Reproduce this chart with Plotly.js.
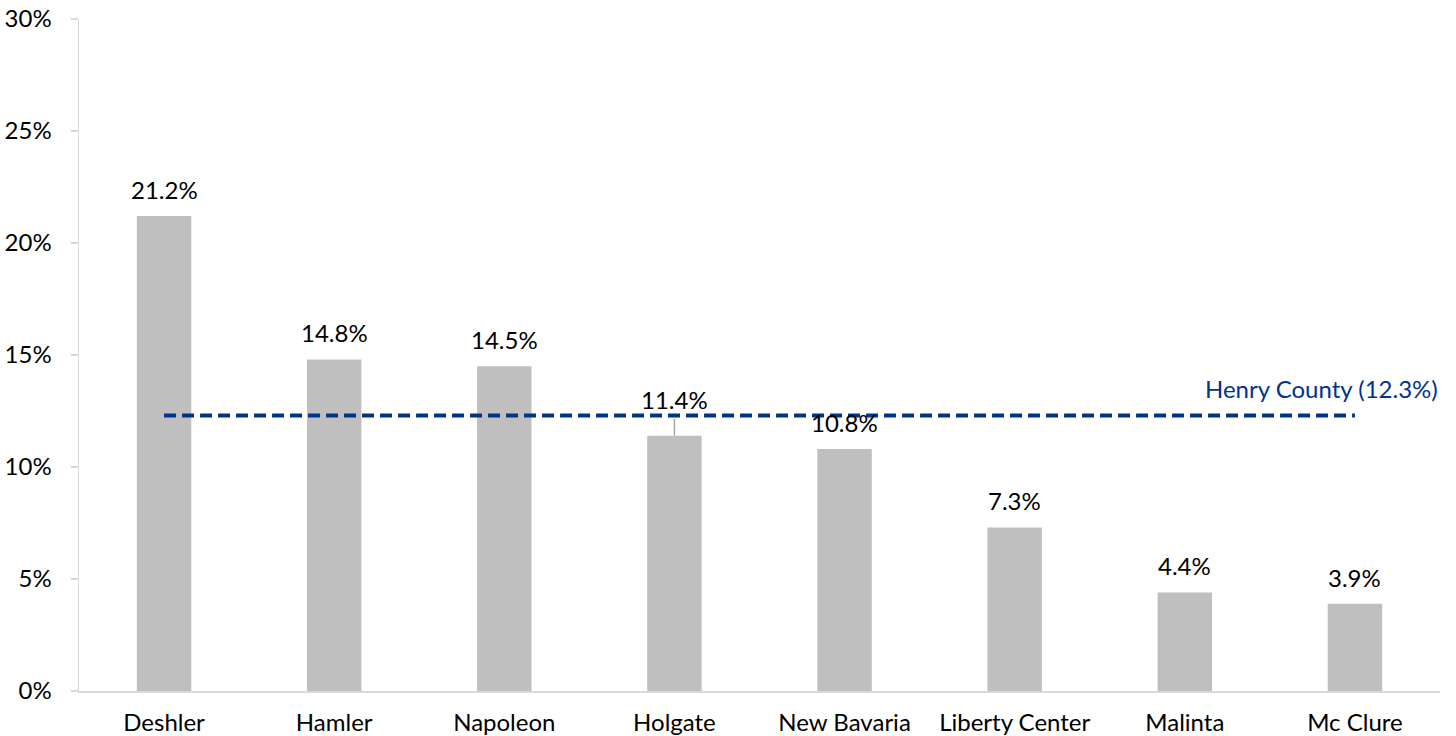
<!DOCTYPE html>
<html><head><meta charset="utf-8">
<script src="https://cdn.plot.ly/plotly-3.0.1.min.js"></script>
<style>html,body{margin:0;padding:0;background:#fff}#chart{width:1456px;height:736px}</style>
</head><body><div id="chart"></div>
<script>
const categories = ["Deshler","Hamler","Napoleon","Holgate","New Bavaria","Liberty Center","Malinta","Mc Clure"];
const values = [21.2,14.8,14.5,11.4,10.8,7.3,4.4,3.9];
const countyValue = 12.3;
const countyLabel = "Henry County (12.3%)";
const yTicks = [0,5,10,15,20,25,30];
const yTickLabels = yTicks.map(v => v + "%");

const FONT = "Lato, 'Open Sans', sans-serif";
const FS = 24;
const traces = [
  {type:"bar", x:categories, y:values, marker:{color:"#bfbfbf"}, width:0.32, hoverinfo:"x+y"},
  {type:"scatter", mode:"lines", x:[categories[0], categories[categories.length-1]], y:[countyValue,countyValue],
   line:{color:"#00338d", width:4, dash:"12px,6px"}, hoverinfo:"none"}
];
const annotations = values.map((v,i)=>({
  x:categories[i], y:v, xref:"x", yref:"y", text:v.toFixed(1)+"%", showarrow:false,
  yanchor:"bottom", yshift: (i===3 ? 20 : 10), font:{family:FONT,size:FS,color:"#000"}
}));
annotations.push({x:1, xref:"paper", y:countyValue, yref:"y", text:countyLabel, showarrow:false,
  xanchor:"right", yanchor:"bottom", yshift:10, font:{family:FONT,size:FS,color:"#00338d"}});
const shapes = [{type:"line", xref:"x", yref:"y", x0:categories[3], x1:categories[3], y0:values[3], y1:values[3]+0.75,
  line:{color:"#a6a6a6", width:1.5}}];

const layout = {
  width:1456, height:736, margin:{l:79,r:16,t:19,b:45},
  paper_bgcolor:"#fff", plot_bgcolor:"#fff", showlegend:false, bargap:0.68,
  font:{family:FONT,size:FS,color:"#000"},
  xaxis:{type:"category", showline:true, linecolor:"#d9d9d9", linewidth:1.5, ticks:"", showgrid:false,
    tickfont:{family:FONT,size:FS,color:"#000"}, ticklabelstandoff:10, automargin:false},
  yaxis:{range:[0,30], tickvals:yTicks, ticktext:yTickLabels, showline:true, linecolor:"#d9d9d9", linewidth:1.5,
    ticks:"outside", ticklen:7, tickcolor:"#d9d9d9", tickwidth:1.5, showgrid:false, zeroline:false,
    tickfont:{family:FONT,size:FS,color:"#000"}, ticklabelstandoff:14, automargin:false},
  annotations, shapes
};
Plotly.newPlot("chart", traces, layout, {staticPlot:true});
</script></body></html>
